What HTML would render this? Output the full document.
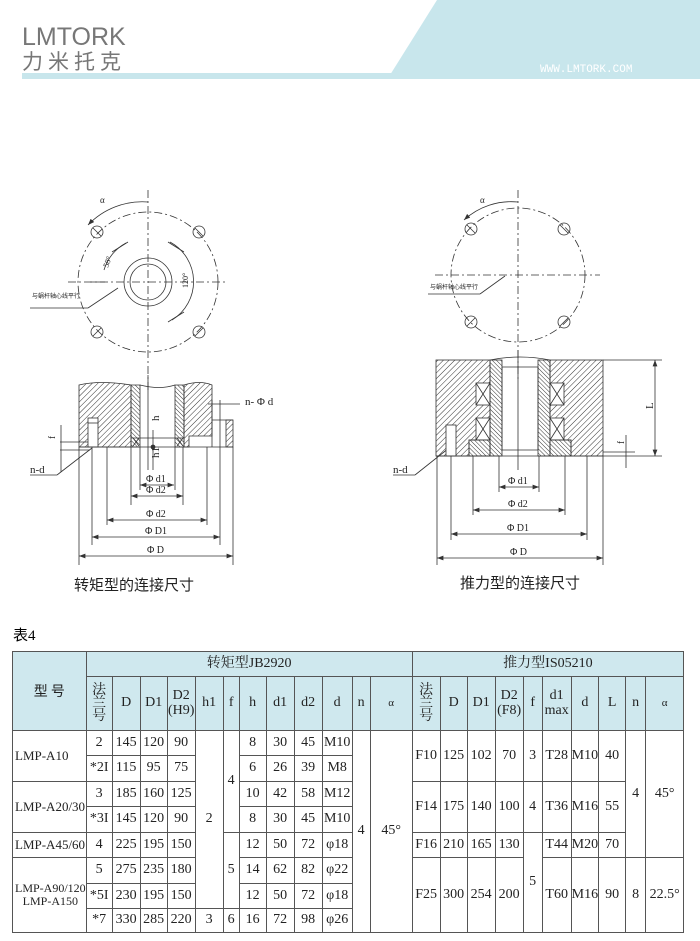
<!DOCTYPE html>
<html><head><meta charset="utf-8">
<style>
body{margin:0;width:700px;height:941px;background:#fff;position:relative;overflow:hidden;font-family:"Liberation Serif","Noto Serif CJK SC",serif;}
.abs{position:absolute;}
table{position:absolute;left:12px;top:651px;border-collapse:collapse;table-layout:fixed;font-family:"Liberation Serif","Noto Serif CJK SC",serif;font-size:14px;color:#222;}
td{border:1px solid #555;text-align:center;padding:0;white-space:nowrap;line-height:1.05;}
.h{background:#cfe8ee;}
.m{text-align:left;padding-left:2px;font-size:13px;}
.v{font-size:14px;line-height:0.95;}
</style></head><body>
<svg class="abs" style="left:0;top:0" width="700" height="90">
<polygon points="437,0 700,0 700,75 390,75" fill="#c8e6ec"/>
<rect x="22" y="73" width="678" height="6" fill="#c8e6ec"/>
<text x="22" y="45" font-family="Liberation Sans,sans-serif" font-size="25" fill="#777">LMTORK</text>
<text x="22" y="69" font-family="Noto Sans CJK SC,sans-serif" font-size="21" fill="#777" letter-spacing="5">力米托克</text>
<text x="540" y="72" font-family="Liberation Mono,monospace" font-size="11" fill="#fff">WWW.LMTORK.COM</text>
</svg>

<svg class="abs" style="left:0;top:180px" width="700" height="430" font-family="Liberation Serif,Noto Serif CJK SC,serif">
<defs>
<pattern id="ha" width="4" height="4" patternUnits="userSpaceOnUse" patternTransform="rotate(45)"><line x1="0" y1="0" x2="0" y2="4" stroke="#333" stroke-width="1"/></pattern>
<pattern id="hb" width="3" height="3" patternUnits="userSpaceOnUse" patternTransform="rotate(-45)"><line x1="0" y1="0" x2="0" y2="3" stroke="#333" stroke-width="1"/></pattern>
<marker id="ar" markerWidth="8" markerHeight="6" refX="8" refY="3" orient="auto"><path d="M0,0 L8,3 L0,6" fill="#333"/></marker>
<marker id="al" markerWidth="8" markerHeight="6" refX="0" refY="3" orient="auto"><path d="M8,0 L0,3 L8,6" fill="#333"/></marker>
</defs>
<g stroke="#333" fill="none" stroke-width="0.8">
<circle cx="148" cy="102" r="70" stroke-dasharray="8,3,2,3"/>
<line x1="148" y1="10" x2="148" y2="210" stroke-dasharray="8,3,2,3"/>
<line x1="68" y1="102" x2="228" y2="102" stroke-dasharray="8,3,2,3"/>
<circle cx="97" cy="52" r="6"/><circle cx="199" cy="52" r="6"/><circle cx="97" cy="152" r="6"/><circle cx="199" cy="152" r="6"/>
<line x1="93" y1="48" x2="101" y2="56"/><line x1="195" y1="48" x2="203" y2="56"/><line x1="93" y1="156" x2="101" y2="148"/><line x1="195" y1="156" x2="203" y2="148"/>
<circle cx="148" cy="102" r="24"/><circle cx="148" cy="102" r="18"/>
<path d="M88,45 A75,75 0 0 1 148,22" marker-start="url(#al)"/>
<path d="M112,72 L128,62 M168,62 L184,72 M168,142 L184,132 M105,102 L90,102"/>
<path d="M104,90 A45,45 0 0 1 126,63" /><path d="M170,62 A45,45 0 0 1 172,140"/>
<line x1="30" y1="128" x2="88" y2="128"/><line x1="88" y1="128" x2="118" y2="108"/>
<line x1="148" y1="195" x2="148" y2="290"/>
<line x1="140" y1="305" x2="174" y2="305" marker-start="url(#al)" marker-end="url(#ar)"/>
<line x1="131" y1="316" x2="183" y2="316" marker-start="url(#al)" marker-end="url(#ar)"/>
<line x1="107" y1="340" x2="207" y2="340" marker-start="url(#al)" marker-end="url(#ar)"/>
<line x1="92" y1="357" x2="220" y2="357" marker-start="url(#al)" marker-end="url(#ar)"/>
<line x1="79" y1="376" x2="233" y2="376" marker-start="url(#al)" marker-end="url(#ar)"/>
<line x1="60" y1="262" x2="90" y2="262"/><line x1="60" y1="270" x2="90" y2="270"/><line x1="61" y1="245" x2="61" y2="292"/>
<line x1="30" y1="295" x2="57" y2="295"/><line x1="57" y1="295" x2="92" y2="268"/>
<line x1="153" y1="250" x2="153" y2="290"/>
<circle cx="518" cy="95" r="67" stroke-dasharray="8,3,2,3"/>
<line x1="518" y1="10" x2="518" y2="200" stroke-dasharray="8,3,2,3"/>
<line x1="435" y1="95" x2="600" y2="95" stroke-dasharray="8,3,2,3"/>
<circle cx="471" cy="49" r="6"/><circle cx="564" cy="49" r="6"/><circle cx="471" cy="142" r="6"/><circle cx="564" cy="142" r="6"/>
<line x1="467" y1="45" x2="475" y2="53"/><line x1="560" y1="45" x2="568" y2="53"/><line x1="467" y1="146" x2="475" y2="138"/><line x1="560" y1="146" x2="568" y2="138"/>
<path d="M464,40 A70,70 0 0 1 518,22" marker-start="url(#al)"/>
<line x1="428" y1="114" x2="480" y2="114"/><line x1="480" y1="114" x2="505" y2="96"/>
<line x1="499" y1="307" x2="539" y2="307" marker-start="url(#al)" marker-end="url(#ar)"/>
<line x1="473" y1="330" x2="565" y2="330" marker-start="url(#al)" marker-end="url(#ar)"/>
<line x1="451" y1="354" x2="587" y2="354" marker-start="url(#al)" marker-end="url(#ar)"/>
<line x1="437" y1="378" x2="603" y2="378" marker-start="url(#al)" marker-end="url(#ar)"/>
<line x1="393" y1="295" x2="415" y2="295"/><line x1="415" y1="295" x2="449" y2="268"/>
<line x1="518" y1="170" x2="518" y2="290"/>

<g transform="translate(0,-180)">
<path d="M79,385 Q100,380 131,385 L131,447 L79,447 Z" fill="url(#ha)"/>
<path d="M131,385 L140,385 L140,447 L131,447 Z" fill="url(#hb)"/>
<path d="M175,385 L184,385 L184,447 L175,447 Z" fill="url(#hb)"/>
<path d="M184,385 Q200,380 212,385 L212,436 L189,436 L189,447 L184,447 Z" fill="url(#ha)"/>
<rect x="226" y="420" width="7" height="27" fill="url(#ha)"/>
<line x1="212" y1="420" x2="233" y2="420"/>
<path d="M140,385 Q160,390 175,385"/>
<rect x="88" y="418" width="10" height="29" fill="#fff"/>
<line x1="88" y1="423" x2="98" y2="423"/>
<line x1="79" y1="447" x2="233" y2="447"/>
<line x1="131" y1="438" x2="184" y2="438"/>
<path d="M133,438 L139,446 M139,438 L133,446 M177,438 L183,446 M183,438 L177,446"/>
<line x1="212" y1="400" x2="212" y2="447"/><line x1="220" y1="400" x2="220" y2="545"/><line x1="208" y1="404" x2="240" y2="404"/>
<line x1="79" y1="447" x2="79" y2="565"/><line x1="233" y1="447" x2="233" y2="565"/>
<line x1="92" y1="447" x2="92" y2="545"/><line x1="107" y1="447" x2="107" y2="525"/><line x1="207" y1="447" x2="207" y2="525"/>
<line x1="131" y1="447" x2="131" y2="505"/><line x1="183" y1="447" x2="183" y2="505"/>
<line x1="140" y1="447" x2="140" y2="490"/><line x1="175" y1="447" x2="175" y2="490"/>
<circle cx="153" cy="447" r="2" fill="#333"/>
<rect x="436" y="360" width="54" height="96" fill="url(#ha)"/>
<rect x="476" y="383" width="14" height="22" fill="#fff"/><rect x="476" y="418" width="14" height="22" fill="#fff"/>
<path d="M476,383 L490,405 M490,383 L476,405 M476,418 L490,440 M490,418 L476,440"/>
<rect x="469" y="440" width="21" height="16" fill="#fff"/>
<rect x="469" y="440" width="21" height="16" fill="url(#hb)"/>
<rect x="490" y="360" width="12" height="96" fill="url(#hb)"/>
<rect x="538" y="360" width="12" height="96" fill="url(#hb)"/>
<rect x="550" y="360" width="53" height="96" fill="url(#ha)"/>
<rect x="550" y="383" width="14" height="22" fill="#fff"/><rect x="550" y="418" width="14" height="22" fill="#fff"/>
<path d="M550,383 L564,405 M564,383 L550,405 M550,418 L564,440 M564,418 L550,440"/>
<rect x="550" y="440" width="21" height="16" fill="#fff"/>
<rect x="550" y="440" width="21" height="16" fill="url(#hb)"/>
<path d="M502,367 L538,367 L538,450 L502,450 Z"/>
<path d="M490,360 Q520,354 550,360"/>
<rect x="446" y="425" width="10" height="31" fill="#fff"/>
<line x1="436" y1="456" x2="603" y2="456"/>
<line x1="603" y1="360" x2="662" y2="360"/><line x1="603" y1="456" x2="662" y2="456"/>
<line x1="655" y1="360" x2="655" y2="456" marker-start="url(#al)" marker-end="url(#ar)"/>
<line x1="626" y1="435" x2="626" y2="468"/><line x1="603" y1="452" x2="635" y2="452"/>
<line x1="437" y1="456" x2="437" y2="565"/><line x1="603" y1="456" x2="603" y2="565"/>
<line x1="451" y1="456" x2="451" y2="540"/><line x1="587" y1="456" x2="587" y2="540"/>
<line x1="473" y1="456" x2="473" y2="515"/><line x1="565" y1="456" x2="565" y2="515"/>
<line x1="499" y1="456" x2="499" y2="492"/><line x1="539" y1="456" x2="539" y2="492"/>
</g>
</g>
<g font-size="11" fill="#222">
<text x="100" y="23" font-size="9">α</text>
<text x="480" y="23" font-size="9">α</text>
<text x="32" y="118" font-size="6" font-family="Noto Sans CJK SC,sans-serif">与蜗杆轴心线平行</text>
<text x="430" y="109" font-size="6" font-family="Noto Sans CJK SC,sans-serif">与蜗杆轴心线平行</text>
<text x="108" y="88" font-size="8" transform="rotate(-70 108 88)">58°</text>
<text x="188" y="108" font-size="8" transform="rotate(-90 188 108)">120°</text>
<text x="245" y="225">n- Φ d</text>
<text x="30" y="293">n-d</text>
<text x="393" y="293">n-d</text>
<text x="58" y="262" font-size="9" transform="rotate(-90 55 262)">f</text>
<text x="630" y="270" font-size="9" transform="rotate(-90 624 270)">f</text>
<text x="160" y="248" transform="rotate(-90 156 245)">h</text>
<text x="160" y="285" transform="rotate(-90 156 282)">h1</text>
<text x="650" y="232" transform="rotate(-90 650 229)">L</text>
<text x="146" y="302" font-size="10">Φ d1</text>
<text x="146" y="313" font-size="10">Φ d2</text>
<text x="146" y="337" font-size="10">Φ d2</text>
<text x="145" y="354" font-size="10">Φ D1</text>
<text x="147" y="373" font-size="10">Φ D</text>
<text x="508" y="304" font-size="10">Φ d1</text>
<text x="508" y="327" font-size="10">Φ d2</text>
<text x="507" y="351" font-size="10">Φ D1</text>
<text x="510" y="375" font-size="10">Φ D</text>
<text x="74" y="410" font-size="15" font-family="Noto Sans CJK SC,sans-serif">转矩型的连接尺寸</text>
<text x="460" y="408" font-size="15" font-family="Noto Sans CJK SC,sans-serif">推力型的连接尺寸</text>
</g>
</svg>

<div class="abs" style="left:13px;top:624px;font-size:15px;font-family:'Liberation Serif','Noto Sans CJK SC',serif;">表4</div>

<table>
<colgroup>
<col style="width:69px"><col style="width:26px"><col style="width:28px"><col style="width:27px"><col style="width:28px"><col style="width:28px"><col style="width:16px"><col style="width:27px"><col style="width:28px"><col style="width:28px"><col style="width:30px"><col style="width:18px"><col style="width:42px">
<col style="width:28px"><col style="width:27px"><col style="width:28px"><col style="width:28px"><col style="width:19px"><col style="width:29px"><col style="width:27px"><col style="width:27px"><col style="width:20px"><col style="width:38px">
</colgroup>
<tr style="height:25px"><td class="h" rowspan="2" style="font-family:'Noto Sans CJK SC',sans-serif;font-size:14px">型 号</td><td class="h" colspan="12">转矩型JB2920</td><td class="h" colspan="10">推力型IS05210</td></tr>
<tr style="height:54px" class="h">
<td class="h v">法<br>兰<br>号</td><td class="h">D</td><td class="h">D1</td><td class="h">D2<br>(H9)</td><td class="h">h1</td><td class="h">f</td><td class="h">h</td><td class="h">d1</td><td class="h">d2</td><td class="h">d</td><td class="h">n</td><td class="h" style="font-size:11px">α</td>
<td class="h v">法<br>兰<br>号</td><td class="h">D</td><td class="h">D1</td><td class="h">D2<br>(F8)</td><td class="h">f</td><td class="h">d1<br>max</td><td class="h">d</td><td class="h">L</td><td class="h">n</td><td class="h" style="font-size:11px">α</td></tr>
<tr style="height:25px"><td class="m" rowspan="2">LMP-A10</td><td>2</td><td>145</td><td>120</td><td>90</td><td rowspan="7">2</td><td rowspan="4">4</td><td>8</td><td>30</td><td>45</td><td>M10</td><td rowspan="8">4</td><td rowspan="8">45°</td>
<td rowspan="2">F10</td><td rowspan="2">125</td><td rowspan="2">102</td><td rowspan="2">70</td><td rowspan="2">3</td><td rowspan="2">T28</td><td rowspan="2">M10</td><td rowspan="2">40</td><td rowspan="5">4</td><td rowspan="5">45°</td></tr>
<tr style="height:26px"><td>*2I</td><td>115</td><td>95</td><td>75</td><td>6</td><td>26</td><td>39</td><td>M8</td></tr>
<tr style="height:25px"><td class="m" rowspan="2">LMP-A20/30</td><td>3</td><td>185</td><td>160</td><td>125</td><td>10</td><td>42</td><td>58</td><td>M12</td>
<td rowspan="2">F14</td><td rowspan="2">175</td><td rowspan="2">140</td><td rowspan="2">100</td><td rowspan="2">4</td><td rowspan="2">T36</td><td rowspan="2">M16</td><td rowspan="2">55</td></tr>
<tr style="height:26px"><td>*3I</td><td>145</td><td>120</td><td>90</td><td>8</td><td>30</td><td>45</td><td>M10</td></tr>
<tr style="height:25px"><td class="m">LMP-A45/60</td><td>4</td><td>225</td><td>195</td><td>150</td><td rowspan="3">5</td><td>12</td><td>50</td><td>72</td><td>φ18</td>
<td>F16</td><td>210</td><td>165</td><td>130</td><td rowspan="4">5</td><td>T44</td><td>M20</td><td>70</td></tr>
<tr style="height:26px"><td class="m" rowspan="3" style="text-align:center;font-size:12px">LMP-A90/120<br>LMP-A150</td><td>5</td><td>275</td><td>235</td><td>180</td><td>14</td><td>62</td><td>82</td><td>φ22</td>
<td rowspan="3">F25</td><td rowspan="3">300</td><td rowspan="3">254</td><td rowspan="3">200</td><td rowspan="3">T60</td><td rowspan="3">M16</td><td rowspan="3">90</td><td rowspan="3">8</td><td rowspan="3">22.5°</td></tr>
<tr style="height:25px"><td>*5I</td><td>230</td><td>195</td><td>150</td><td>12</td><td>50</td><td>72</td><td>φ18</td></tr>
<tr style="height:24px"><td>*7</td><td>330</td><td>285</td><td>220</td><td>3</td><td>6</td><td>16</td><td>72</td><td>98</td><td>φ26</td></tr>
</table>
</body></html>
